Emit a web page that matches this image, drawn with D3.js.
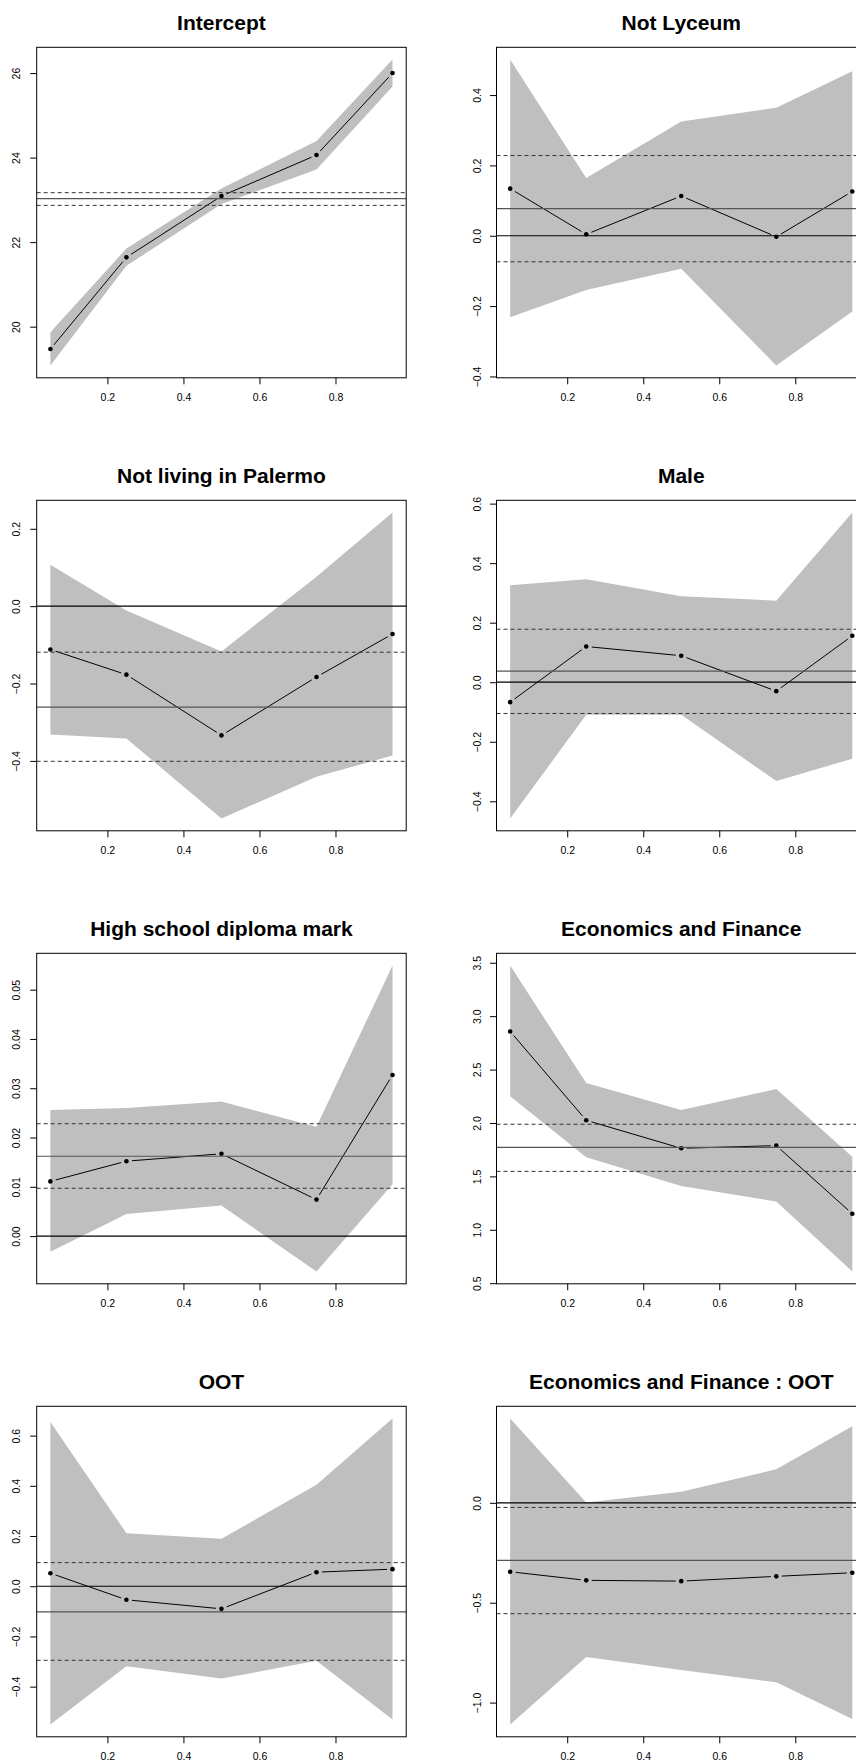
<!DOCTYPE html>
<html>
<head>
<meta charset="utf-8">
<script src="https://cdn.jsdelivr.net/npm/d3@7"></script>
<style>
  body { margin: 0; background: #fff; }
  svg { display: block; font-family: "Liberation Sans", Arial, Helvetica, sans-serif; }
</style>
</head>
<body>
<div id="chart"></div>
<script>
// quantile levels
var taus = [0.05, 0.25, 0.5, 0.75, 0.95];

var titles = ["Intercept", "Not Lyceum", "Not living in Palermo", "Male",
              "High school diploma mark", "Economics and Finance", "OOT",
              "Economics and Finance : OOT"];

// quantile regression coefficients, one row per panel
var estimates = [
  [19.47, 21.64, 23.09, 24.06, 26.00],
  [0.134, 0.004, 0.113, -0.003, 0.126],
  [-0.112, -0.177, -0.334, -0.183, -0.072],
  [-0.067, 0.120, 0.089, -0.030, 0.156],
  [0.0111, 0.0152, 0.0167, 0.0074, 0.0327],
  [2.857, 2.025, 1.763, 1.788, 1.150],
  [0.052, -0.054, -0.090, 0.056, 0.068],
  [-0.345, -0.388, -0.392, -0.368, -0.350]
];
var lowerCI = [
  [19.08, 21.44, 22.90, 23.72, 25.68],
  [-0.232, -0.154, -0.094, -0.369, -0.215],
  [-0.332, -0.342, -0.549, -0.441, -0.386],
  [-0.458, -0.109, -0.109, -0.332, -0.257],
  [-0.0032, 0.0045, 0.0062, -0.0072, 0.0105],
  [2.250, 1.679, 1.410, 1.264, 0.609],
  [-0.551, -0.319, -0.368, -0.297, -0.531],
  [-1.110, -0.772, -0.837, -0.898, -1.082]
];
var upperCI = [
  [19.87, 21.85, 23.27, 24.39, 26.32],
  [0.501, 0.164, 0.325, 0.364, 0.468],
  [0.107, -0.011, -0.117, 0.076, 0.242],
  [0.326, 0.346, 0.289, 0.274, 0.570],
  [0.0256, 0.0260, 0.0273, 0.0222, 0.0549],
  [3.474, 2.374, 2.121, 2.318, 1.685],
  [0.654, 0.211, 0.189, 0.404, 0.668],
  [0.422, 0.002, 0.055, 0.168, 0.383]
];

// OLS estimate and its interval
var olsFit  = [23.03, 0.077, -0.261, 0.037, 0.0162, 1.772, -0.102, -0.288];
var olsLow  = [22.87, -0.074, -0.401, -0.105, 0.0097, 1.547, -0.295, -0.555];
var olsHigh = [23.17, 0.228, -0.119, 0.178, 0.0228, 1.988, 0.094, -0.023];

// axis ticks
var xTicks = [0.2, 0.4, 0.6, 0.8];
var yTicks = [
  [20, 22, 24, 26],
  [-0.4, -0.2, 0.0, 0.2, 0.4],
  [-0.4, -0.2, 0.0, 0.2],
  [-0.4, -0.2, 0.0, 0.2, 0.4, 0.6],
  [0.00, 0.01, 0.02, 0.03, 0.04, 0.05],
  [0.5, 1.0, 1.5, 2.0, 2.5, 3.0, 3.5],
  [-0.4, -0.2, 0.0, 0.2, 0.4, 0.6],
  [-1.0, -0.5, 0.0]
];
var yDigits = [0, 1, 1, 1, 2, 1, 1, 1];

var width = 856,
    height = 1762;

var panelW = 459.8, panelH = 453,
    boxLeft = 36.7, boxTop = 47.3,
    boxW = 369.5, boxH = 330.5;

var svg = d3.select("#chart")
    .append("svg")
    .attr("width", width)
    .attr("height", height);

// pad a range by 4% on each side like R does
function padded(ext) {
    var d = (ext[1] - ext[0]) * 0.04;
    return [ext[0] - d, ext[1] + d];
}

var x = d3.scaleLinear()
    .domain(padded(d3.extent(taus)))
    .range([0, boxW]);

titles.forEach(function (title, i) {
    var col = i % 2, row = Math.floor(i / 2);
    var g = svg.append("g")
        .attr("transform", "translate(" + (boxLeft + col * panelW) + "," + (boxTop + row * panelH) + ")");

    var allY = lowerCI[i].concat(upperCI[i], [olsLow[i], olsHigh[i]]);
    var y = d3.scaleLinear()
        .domain(padded(d3.extent(allY)))
        .range([boxH, 0]);

    // confidence band
    var band = d3.area()
        .x(function (d, k) { return x(taus[k]); })
        .y0(function (d, k) { return y(lowerCI[i][k]); })
        .y1(function (d, k) { return y(upperCI[i][k]); });

    g.append("path")
        .datum(taus)
        .attr("fill", "#bfbfbf")
        .attr("stroke", "none")
        .attr("d", band);

    // line with gaps around the points (R type="b")
    var pts = taus.map(function (t, k) { return [x(t), y(estimates[i][k])]; });
    var gap = 5.5;
    var segs = d3.pairs(pts).map(function (p) {
        var dx = p[1][0] - p[0][0], dy = p[1][1] - p[0][1];
        var len = Math.sqrt(dx * dx + dy * dy);
        var ux = dx / len, uy = dy / len;
        return [p[0][0] + ux * gap, p[0][1] + uy * gap, p[1][0] - ux * gap, p[1][1] - uy * gap];
    });

    g.selectAll("line.seg")
        .data(segs)
        .enter()
        .append("line")
        .attr("class", "seg")
        .attr("x1", function (d) { return d[0]; })
        .attr("y1", function (d) { return d[1]; })
        .attr("x2", function (d) { return d[2]; })
        .attr("y2", function (d) { return d[3]; })
        .attr("stroke", "#000")
        .attr("stroke-width", 1);

    g.selectAll("circle")
        .data(pts)
        .enter()
        .append("circle")
        .attr("cx", function (d) { return d[0]; })
        .attr("cy", function (d) { return d[1]; })
        .attr("r", 2.3)
        .attr("fill", "#000");

    // OLS lines
    g.append("line")
        .attr("x1", 0).attr("x2", boxW)
        .attr("y1", y(olsFit[i])).attr("y2", y(olsFit[i]))
        .attr("stroke", "#555")
        .attr("stroke-width", 1.2);

    [olsLow[i], olsHigh[i]].forEach(function (v) {
        g.append("line")
            .attr("x1", 0).attr("x2", boxW)
            .attr("y1", y(v)).attr("y2", y(v))
            .attr("stroke", "#333")
            .attr("stroke-width", 1)
            .attr("stroke-dasharray", "4,3");
    });

    // zero line
    var dom = y.domain();
    if (dom[0] < 0 && dom[1] > 0) {
        g.append("line")
            .attr("x1", 0).attr("x2", boxW)
            .attr("y1", y(0)).attr("y2", y(0))
            .attr("stroke", "#000")
            .attr("stroke-width", 1.2);
    }

    // axes
    var xAxis = g.append("g")
        .attr("transform", "translate(0," + boxH + ")")
        .call(d3.axisBottom(x).tickValues(xTicks).tickSize(6.5).tickFormat(d3.format(".1f")));
    xAxis.select(".domain").remove();
    xAxis.selectAll("text")
        .attr("y", 23.3)
        .attr("dy", 0)
        .attr("font-size", "10.5px")
        .attr("font-family", "Liberation Sans, Arial, sans-serif")
        .attr("fill", "#000");

    var yAxis = g.append("g")
        .call(d3.axisLeft(y).tickValues(yTicks[i]).tickSize(6.5).tickFormat(d3.format("." + yDigits[i] + "f")));
    yAxis.select(".domain").remove();
    yAxis.selectAll("text")
        .attr("transform", "rotate(-90)")
        .attr("text-anchor", "middle")
        .attr("x", 0)
        .attr("y", col === 0 ? -20 : -19)
        .attr("dy", "0.35em")
        .attr("font-size", "10.5px")
        .attr("font-family", "Liberation Sans, Arial, sans-serif")
        .attr("fill", "#000");

    g.selectAll(".tick line").attr("stroke", "#000");

    // box
    g.append("rect")
        .attr("x", 0).attr("y", 0)
        .attr("width", boxW).attr("height", boxH)
        .attr("fill", "none")
        .attr("stroke", "#000")
        .attr("stroke-width", 1);

    // title
    g.append("text")
        .attr("x", boxW / 2)
        .attr("y", -17.5)
        .attr("text-anchor", "middle")
        .attr("font-size", "21px")
        .attr("font-weight", "bold")
        .attr("fill", "#000")
        .text(title);
});
</script>
</body>
</html>
